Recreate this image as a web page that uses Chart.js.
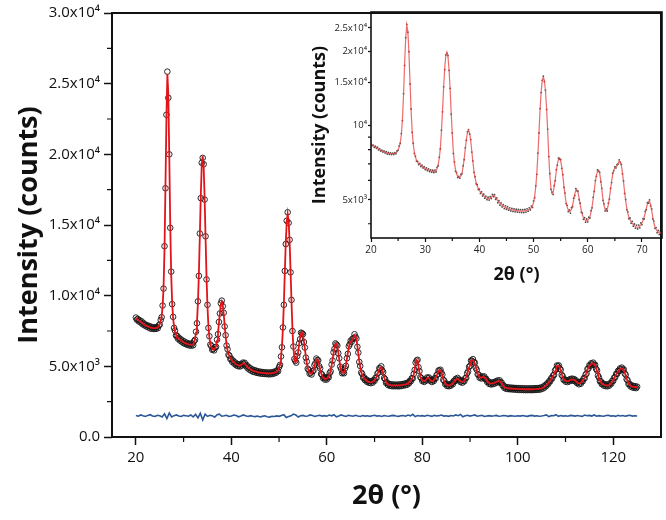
<!DOCTYPE html>
<html>
<head>
<meta charset="utf-8">
<script src="https://cdn.jsdelivr.net/npm/chart.js@4.4.1/dist/chart.umd.min.js"></script>
<style>
  html, body { margin: 0; padding: 0; background: #fff; }
  #wrap { position: relative; width: 666px; height: 520px; }
  #mainChart { position: absolute; left: 0; top: 0; }
  #insetChart { position: absolute; left: 300px; top: 0; }
</style>
</head>
<body>
<div id="wrap">
  <canvas id="mainChart" width="666" height="520"></canvas>
  <canvas id="insetChart" width="366" height="290"></canvas>
</div>
<script>
'use strict';

// scan grid: 2θ from 20° in 0.2° steps (difference curve read every 0.5°)
const scanStart = 20;
const scanStep = 0.2;
const diffStep = 0.5;

// calculated profile (red line), one row per degree
const calcIntensity = [
  8400, 8350, 8300, 8250, 8200,   8150, 8100, 8050, 8000, 7950,
  7900, 7870, 7840, 7810, 7780,   7750, 7730, 7720, 7710, 7700,
  7700, 7700, 7720, 7760, 7840,   8000, 8200, 8550, 9200, 10600,
  13300, 17800, 22600, 25700, 24200,   19800, 15000, 11500, 9500, 8400,
  7800, 7450, 7250, 7100, 7030,   6960, 6900, 6850, 6800, 6750,
  6700, 6670, 6640, 6610, 6580,   6550, 6540, 6530, 6530, 6540,
  6560, 6700, 6950, 7380, 8120,   9500, 11550, 14250, 17080, 19240,
  19900, 19140, 16930, 14050, 11300,   9220, 7820, 7050, 6620, 6370,
  6240, 6160, 6200, 6270, 6440,   6810, 7350, 8060, 8810, 9380,
  9580, 9330, 8710, 7900, 7130,   6540, 6140, 5880, 5700, 5570,
  5460, 5380, 5320, 5260, 5200,   5150, 5110, 5080, 5060, 5060,
  5080, 5130, 5190, 5220, 5180,   5100, 5020, 4950, 4890, 4840,
  4790, 4750, 4710, 4680, 4660,   4640, 4620, 4600, 4580, 4570,
  4560, 4550, 4540, 4530, 4520,   4520, 4510, 4510, 4500, 4500,
  4500, 4500, 4510, 4520, 4540,   4560, 4580, 4610, 4650, 4720,
  4880, 5170, 5630, 6420, 7650,   9430, 11650, 13760, 15210, 15780,
  15250, 13840, 11770, 9590, 7600,   6300, 5600, 5300, 5350, 5650,
  6050, 6550, 7000, 7300, 7400,   7200, 6800, 6250, 5700, 5250,
  4900, 4680, 4550, 4480, 4500,   4580, 4750, 5000, 5280, 5480,
  5500, 5350, 5080, 4780, 4530,   4350, 4230, 4160, 4120, 4110,
  4130, 4180, 4280, 4450, 4700,   5050, 5480, 5920, 6300, 6550,
  6600, 6400, 6000, 5500, 5050,   4750, 4580, 4520, 4580, 4780,
  5100, 5500, 5950, 6350, 6620,   6750, 6800, 6880, 7050, 7200,
  7150, 6900, 6450, 5900, 5380,   4950, 4620, 4400, 4250, 4150,
  4080, 4020, 3970, 3930, 3900,   3880, 3870, 3880, 3910, 3960,
  4030, 4120, 4250, 4420, 4620,   4800, 4920, 4930, 4780, 4520,
  4250, 4030, 3890, 3800, 3740,   3700, 3680, 3670, 3660, 3650,
  3650, 3650, 3650, 3650, 3650,   3650, 3650, 3660, 3670, 3680,
  3700, 3710, 3720, 3740, 3760,   3800, 3850, 3920, 4000, 4100,
  4200, 4400, 4800, 5200, 5450,   5400, 5000, 4600, 4300, 4100,
  4020, 3980, 3960, 3980, 4050,   4150, 4200, 4150, 4050, 3980,
  3950, 3970, 4020, 4100, 4200,   4320, 4500, 4650, 4750, 4700,
  4600, 4350, 4100, 3920, 3800,   3720, 3670, 3650, 3650, 3660,
  3700, 3750, 3800, 3900, 4000,   4050, 4100, 4120, 4080, 4000,
  3950, 3920, 3900, 3920, 4000,   4100, 4250, 4450, 4700, 4900,
  5100, 5350, 5450, 5450, 5350,   5200, 4950, 4700, 4500, 4350,
  4250, 4200, 4200, 4230, 4250,   4220, 4150, 4050, 3950, 3880,
  3820, 3790, 3780, 3790, 3800,   3820, 3850, 3880, 3910, 3940,
  3950, 3950, 3900, 3800, 3700,   3600, 3530, 3490, 3470, 3460,
  3450, 3440, 3440, 3430, 3430,   3420, 3420, 3410, 3410, 3400,
  3400, 3400, 3390, 3390, 3390,   3390, 3380, 3380, 3380, 3380,
  3380, 3380, 3380, 3380, 3380,   3380, 3380, 3390, 3390, 3390,
  3400, 3400, 3410, 3420, 3430,   3450, 3480, 3520, 3560, 3620,
  3680, 3750, 3820, 3900, 4000,   4100, 4200, 4300, 4450, 4650,
  4850, 5000, 5050, 5000, 4900,   4700, 4450, 4250, 4100, 4020,
  3980, 3960, 3950, 3970, 4000,   4040, 4060, 4070, 4060, 4040,
  4000, 3950, 3880, 3820, 3790,   3800, 3830, 3900, 4000, 4100,
  4200, 4350, 4550, 4750, 4900,   5020, 5100, 5160, 5200, 5200,
  5150, 5050, 4880, 4650, 4400,   4150, 4000, 3880, 3800, 3740,
  3700, 3680, 3660, 3650, 3650,   3660, 3700, 3760, 3840, 3930,
  4030, 4150, 4280, 4400, 4520,   4620, 4720, 4790, 4840, 4850,
  4820, 4720, 4550, 4350, 4150,   3950, 3800, 3700, 3640, 3600,
  3570, 3550, 3540, 3530, 3520,   3510
];

// observed counts (open circles)
const obsIntensity = [
  8450, 8300, 8350, 8180, 8260,   8100, 8180, 7980, 8060, 7900,
  7960, 7820, 7900, 7760, 7850,   7680, 7800, 7660, 7760, 7640,
  7750, 7650, 7780, 7700, 7900,   7950, 8280, 8480, 9300, 10500,
  13500, 17600, 22800, 25850, 24000,   20000, 14800, 11700, 9400, 8500,
  7720, 7530, 7180, 7170, 6960,   7030, 6830, 6920, 6740, 6820,
  6640, 6750, 6580, 6680, 6520,   6620, 6480, 6600, 6460, 6610,
  6490, 6780, 6880, 7450, 8050,   9600, 11400, 14400, 16900, 19400,
  19750, 19300, 16800, 14200, 11150,   9350, 7720, 7130, 6540, 6440,
  6170, 6230, 6130, 6340, 6380,   6880, 7280, 8140, 8740, 9460,
  9650, 9250, 8790, 7820, 7200,   6470, 6210, 5810, 5760, 5510,
  5530, 5310, 5390, 5190, 5270,   5080, 5180, 5010, 5130, 4990,
  5150, 5060, 5260, 5150, 5250,   5030, 5090, 4870, 4960, 4760,
  4860, 4680, 4780, 4610, 4730,   4580, 4690, 4540, 4640, 4510,
  4620, 4490, 4600, 4470, 4580,   4460, 4570, 4450, 4560, 4440,
  4560, 4440, 4570, 4460, 4600,   4500, 4640, 4550, 4720, 4660,
  4950, 5100, 5700, 6350, 7750,   9350, 11750, 13650, 15300, 15900,
  15150, 13950, 11650, 9700, 7500,   6400, 5520, 5380, 5260, 5720,
  5980, 6630, 6920, 7380, 7330,   7280, 6720, 6330, 5620, 5330,
  4830, 4750, 4480, 4550, 4420,   4650, 4690, 5080, 5210, 5550,
  5440, 5420, 5010, 4850, 4460,   4420, 4170, 4230, 4060, 4180,
  4070, 4250, 4220, 4520, 4640,   5120, 5410, 5990, 6230, 6620,
  6540, 6470, 5930, 5570, 4980,   4820, 4510, 4590, 4510, 4850,
  5030, 5570, 5880, 6420, 6560,   6820, 6740, 6950, 6990, 7270,
  7090, 6970, 6380, 5970, 5310,   5020, 4560, 4470, 4190, 4220,
  4020, 4090, 3910, 3990, 3840,   3950, 3810, 3950, 3850, 4030,
  3970, 4190, 4180, 4490, 4560,   4870, 4850, 5000, 4720, 4590,
  4180, 4100, 3830, 3860, 3680,   3760, 3620, 3730, 3600, 3710,
  3590, 3710, 3600, 3700, 3590,   3710, 3590, 3720, 3610, 3740,
  3640, 3770, 3660, 3800, 3700,   3860, 3790, 3980, 3950, 4160,
  4140, 4460, 4750, 5260, 5400,   5460, 4940, 4660, 4240, 4160,
  3960, 4040, 3900, 4040, 3990,   4210, 4140, 4210, 3990, 4040,
  3890, 4030, 3960, 4160, 4140,   4380, 4440, 4710, 4690, 4760,
  4540, 4410, 4040, 3980, 3740,   3780, 3610, 3710, 3590, 3720,
  3640, 3810, 3740, 3960, 3940,   4110, 4040, 4180, 4020, 4060,
  3890, 3980, 3840, 3980, 3940,   4160, 4190, 4510, 4640, 4960,
  5040, 5410, 5390, 5510, 5290,   5260, 4890, 4760, 4440, 4410,
  4190, 4260, 4140, 4290, 4190,   4280, 4090, 4110, 3890, 3940,
  3760, 3850, 3720, 3850, 3740,   3880, 3790, 3940, 3850, 4000,
  3890, 4010, 3840, 3860, 3640,   3660, 3470, 3550, 3410, 3520,
  3390, 3500, 3380, 3490, 3370,   3480, 3360, 3470, 3350, 3460,
  3340, 3460, 3330, 3450, 3330,   3450, 3320, 3440, 3320, 3440,
  3320, 3440, 3320, 3440, 3320,   3440, 3320, 3450, 3330, 3450,
  3340, 3460, 3350, 3480, 3370,   3510, 3420, 3580, 3500, 3680,
  3620, 3810, 3760, 3960, 3940,   4160, 4140, 4360, 4390, 4710,
  4790, 5060, 4990, 5060, 4840,   4760, 4390, 4310, 4040, 4080,
  3920, 4020, 3890, 4030, 3940,   4100, 4000, 4130, 4000, 4100,
  3940, 4010, 3820, 3880, 3730,   3860, 3770, 3960, 3940, 4160,
  4140, 4410, 4490, 4810, 4840,   5080, 5040, 5220, 5140, 5260,
  5090, 5110, 4820, 4710, 4340,   4210, 3940, 3940, 3740, 3800,
  3640, 3740, 3600, 3710, 3590,   3720, 3640, 3820, 3780, 3990,
  3970, 4210, 4220, 4460, 4460,   4680, 4660, 4850, 4780, 4910,
  4760, 4780, 4490, 4410, 4090,   4010, 3740, 3760, 3580, 3660,
  3510, 3610, 3480, 3590, 3460,   3560
];

// difference curve (blue), offset near 1.5x10^3
const diffIntensity = [
  1520, 1470, 1560, 1500, 1450, 1530, 1580, 1490, 1460, 1540,
  1500, 1420, 1650, 1300, 1700, 1420, 1510, 1560, 1480, 1450,
  1530, 1500, 1470, 1560, 1420, 1600, 1350, 1680, 1200, 1620,
  1460, 1530, 1510, 1400, 1580, 1620, 1470, 1500, 1540, 1450,
  1490, 1550, 1520, 1430, 1480, 1560, 1500, 1450, 1510, 1470,
  1440, 1480, 1420, 1460, 1500, 1430, 1410, 1470, 1450, 1490,
  1460, 1520, 1580, 1380, 1450, 1500, 1620, 1560, 1410, 1500,
  1530, 1470, 1490, 1560, 1520, 1450, 1500, 1540, 1480, 1510,
  1470, 1550, 1500, 1580, 1430, 1490, 1560, 1510, 1450, 1530,
  1500, 1470, 1540, 1490, 1450, 1520, 1480, 1500, 1460, 1510,
  1540, 1480, 1500, 1450, 1520, 1490, 1470, 1510, 1530, 1480,
  1460, 1500, 1520, 1470, 1550, 1500, 1610, 1440, 1520, 1490,
  1510, 1470, 1540, 1500, 1460, 1530, 1490, 1510, 1550, 1480,
  1500, 1460, 1520, 1490, 1560, 1510, 1590, 1430, 1500, 1540,
  1480, 1520, 1560, 1470, 1500, 1530, 1450, 1490, 1510, 1480,
  1500, 1530, 1470, 1490, 1520, 1500, 1460, 1510, 1490, 1470,
  1500, 1480, 1520, 1490, 1460, 1510, 1530, 1480, 1500, 1470,
  1490, 1520, 1560, 1440, 1510, 1500, 1580, 1460, 1520, 1480,
  1500, 1470, 1530, 1510, 1480, 1520, 1490, 1460, 1550, 1500,
  1530, 1480, 1560, 1470, 1510, 1490, 1470, 1520, 1540, 1480,
  1500, 1460, 1530, 1490, 1520, 1470, 1510, 1540, 1480, 1500,
  1490
];

// main axes
const xTickValues = [20, 40, 60, 80, 100, 120];
const xMinorTicks = [30, 50, 70, 90, 110];
const yTickValues = [0, 5000, 10000, 15000, 20000, 25000, 30000];
const yTickLabels = ['0.0', '5.0x10³', '1.0x10⁴', '1.5x10⁴', '2.0x10⁴', '2.5x10⁴', '3.0x10⁴'];
const yMinorTicks = [2500, 7500, 12500, 17500, 22500, 27500];

// inset axes (log intensity)
const insetXTickValues = [20, 30, 40, 50, 60, 70];
const insetXMinorTicks = [25, 35, 45, 55, 65];
const insetYTickValues = [5000, 10000, 15000, 20000, 25000];
const insetYTickLabels = ['5x10³', '10⁴', '1.5x10⁴', '2x10⁴', '2.5x10⁴'];
const insetYMinorTicks = [4000, 6000, 7000, 8000, 9000];

const FONT = '"Open Sans", "Noto Sans", sans-serif';

function toPoints(values, start, step) {
  return values.map((v, i) => ({ x: Math.round((start + i * step) * 100) / 100, y: v }));
}

// box around the plot plus the short minor ticks
function framePlugin(xMinor, yMinor, minorLen, lineWidth) {
  return {
    id: 'frame',
    afterDatasetsDraw(chart) {
      const { ctx, chartArea: a } = chart;
      ctx.save();
      ctx.strokeStyle = '#111';
      ctx.lineWidth = lineWidth;
      ctx.strokeRect(a.left, a.top, a.right - a.left, a.bottom - a.top);
      ctx.lineWidth = 1.2;
      ctx.beginPath();
      xMinor.forEach(v => {
        const px = chart.scales.x.getPixelForValue(v);
        ctx.moveTo(px, a.bottom);
        ctx.lineTo(px, a.bottom + minorLen);
      });
      yMinor.forEach(v => {
        const py = chart.scales.y.getPixelForValue(v);
        ctx.moveTo(a.left, py);
        ctx.lineTo(a.left - minorLen, py);
      });
      ctx.stroke();
      ctx.restore();
    }
  };
}

const obsPoints = toPoints(obsIntensity, scanStart, scanStep);
const calcPoints = toPoints(calcIntensity, scanStart, scanStep);
const diffPoints = toPoints(diffIntensity, scanStart, diffStep);

new Chart(document.getElementById('mainChart'), {
  type: 'line',
  data: {
    datasets: [
      {
        label: 'Calculated',
        data: calcPoints,
        borderColor: '#e2141a',
        borderWidth: 1.8,
        pointRadius: 0,
        tension: 0
      },
      {
        label: 'Observed',
        data: obsPoints,
        showLine: false,
        pointRadius: 2.8,
        pointBorderWidth: 1,
        pointBorderColor: 'rgba(20,20,20,0.9)',
        pointBackgroundColor: 'rgba(0,0,0,0)'
      },
      {
        label: 'Difference',
        data: diffPoints,
        borderColor: '#2b5796',
        borderWidth: 1.6,
        pointRadius: 0,
        tension: 0
      }
    ]
  },
  options: {
    responsive: false,
    animation: false,
    devicePixelRatio: 1,
    layout: { padding: { left: 0, right: 4, top: 12, bottom: 0 } },
    plugins: { legend: { display: false }, tooltip: { enabled: false } },
    scales: {
      x: {
        type: 'linear',
        min: 15,
        max: 130,
        afterFit: s => { s.height = 83; },
        afterBuildTicks: s => { s.ticks = xTickValues.map(v => ({ value: v })); },
        border: { display: false },
        grid: { drawOnChartArea: false, tickLength: 8, tickWidth: 1.5, tickColor: '#111' },
        ticks: { color: '#111', padding: 4, maxRotation: 0, font: { family: FONT, size: 15 } },
        title: {
          display: true, text: '2θ (°)', color: '#111',
          padding: { top: 0, bottom: 7 },
          font: { family: FONT, size: 27, weight: 'bold' }
        }
      },
      y: {
        min: 0,
        max: 30000,
        afterFit: s => { s.width = 112; },
        afterBuildTicks: s => { s.ticks = yTickValues.map(v => ({ value: v })); },
        border: { display: false },
        grid: { drawOnChartArea: false, tickLength: 8, tickWidth: 1.5, tickColor: '#111' },
        ticks: {
          color: '#111', padding: 4, font: { family: FONT, size: 15 },
          callback: v => yTickLabels[yTickValues.indexOf(v)]
        },
        title: {
          display: true, text: 'Intensity (counts)', color: '#111',
          padding: { top: 13, bottom: 0 },
          font: { family: FONT, size: 27, weight: 'bold' }
        }
      }
    }
  },
  plugins: [framePlugin(xMinorTicks, yMinorTicks, 5, 2)]
});

new Chart(document.getElementById('insetChart'), {
  type: 'line',
  data: {
    datasets: [
      {
        label: 'Calculated',
        data: calcPoints,
        borderColor: 'rgba(232,70,70,0.8)',
        borderWidth: 1.2,
        pointRadius: 0,
        tension: 0
      },
      {
        label: 'Observed',
        data: obsPoints,
        showLine: false,
        pointRadius: 0.9,
        pointBorderWidth: 0,
        pointBackgroundColor: 'rgba(30,30,30,0.8)'
      }
    ]
  },
  options: {
    responsive: false,
    animation: false,
    devicePixelRatio: 1,
    layout: { padding: { left: 0, right: 3, top: 12, bottom: 0 } },
    plugins: { legend: { display: false }, tooltip: { enabled: false } },
    scales: {
      x: {
        type: 'linear',
        min: 20,
        max: 73.7,
        afterFit: s => { s.height = 52; },
        afterBuildTicks: s => { s.ticks = insetXTickValues.map(v => ({ value: v })); },
        border: { display: false },
        grid: { drawOnChartArea: false, tickLength: 4, tickWidth: 1.2, tickColor: '#111' },
        ticks: { color: '#222', padding: 2, maxRotation: 0, font: { family: FONT, size: 10 } },
        title: {
          display: true, text: '2θ (°)', color: '#111',
          padding: { top: 0, bottom: 4 },
          font: { family: FONT, size: 18, weight: 'bold' }
        }
      },
      y: {
        type: 'logarithmic',
        min: 3500,
        max: 29000,
        afterFit: s => { s.width = 71; },
        afterBuildTicks: s => { s.ticks = insetYTickValues.map(v => ({ value: v })); },
        border: { display: false },
        grid: { drawOnChartArea: false, tickLength: 3, tickWidth: 1.2, tickColor: '#111' },
        ticks: {
          color: '#222', padding: 1, font: { family: FONT, size: 9.5 },
          callback: v => insetYTickLabels[insetYTickValues.indexOf(v)]
        },
        title: {
          display: true, text: 'Intensity (counts)', color: '#111',
          padding: { top: 9, bottom: 0 },
          font: { family: FONT, size: 18, weight: 'bold' }
        }
      }
    }
  },
  plugins: [framePlugin(insetXMinorTicks, insetYMinorTicks, 3, 1.6)]
});
</script>
</body>
</html>
